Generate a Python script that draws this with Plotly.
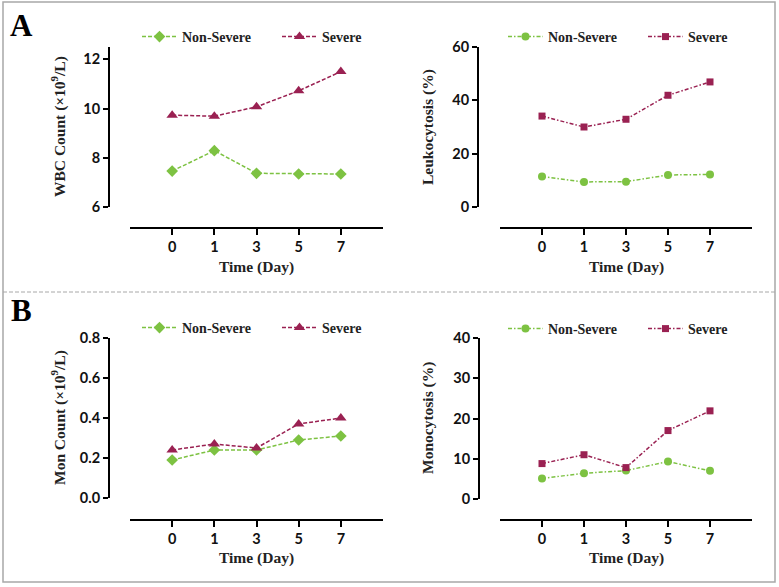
import plotly.graph_objects as go

W, H = 779, 587

days = ["0", "1", "3", "5", "7"]
series_names = ["Non-Severe", "Severe"]

wbc_nonsevere = [7.46, 8.29, 7.37, 7.34, 7.34]
wbc_severe = [9.73, 9.69, 10.07, 10.72, 11.50]
leuko_nonsevere = [11.4, 9.4, 9.5, 12.0, 12.2]
leuko_severe = [34.1, 30.0, 32.9, 41.9, 46.9]
mon_nonsevere = [0.19, 0.24, 0.24, 0.29, 0.31]
mon_severe = [0.24, 0.27, 0.25, 0.37, 0.40]
mono_nonsevere = [5.1, 6.4, 7.05, 9.3, 7.0]
mono_severe = [8.8, 11.0, 7.8, 17.0, 21.9]

GREEN = "#7DC242"
MAROON = "#9A2152"
SERIF = "Liberation Serif"
SANS = "Lato"


def px(x):
    return x / W


def py(y):
    return 1 - y / H


fig = go.Figure()

panels = [
    dict(xa="x", ya="y", lg="legend", ns=wbc_nonsevere, s=wbc_severe, dash="4px,2px",
         sym=("diamond", "triangle-up"), sz=(9, 10), xd=(130, 383), yd=(47, 207), xl=228, yl=109,
         yr=[6, 12.5], tv=[6, 8, 10, 12], tt=["6", "8", "10", "12"], ly=37, lx=137,
         title="WBC Count (\u00d710<sup>9</sup>/L)", tx=58, ty=127, xt=267),
    dict(xa="x2", ya="y2", lg="legend2", ns=leuko_nonsevere, s=leuko_severe, dash="4px,2px,1.5px,2px",
         sym=("circle", "square"), sz=(8, 7), xd=(500, 752), yd=(47, 207), xl=228, yl=478,
         yr=[0, 60], tv=[0, 20, 40, 60], tt=["0", "20", "40", "60"], ly=37, lx=503,
         title="Leukocytosis (%)", tx=428, ty=127, xt=267),
    dict(xa="x3", ya="y3", lg="legend3", ns=mon_nonsevere, s=mon_severe, dash="4px,2px",
         sym=("diamond", "triangle-up"), sz=(9, 10), xd=(130, 383), yd=(338, 498), xl=519.5, yl=109,
         yr=[0, 0.8], tv=[0, 0.2, 0.4, 0.6, 0.8], tt=["0.0", "0.2", "0.4", "0.6", "0.8"], ly=328, lx=137,
         title="Mon Count (\u00d710<sup>9</sup>/L)", tx=58, ty=418, xt=558),
    dict(xa="x4", ya="y4", lg="legend4", ns=mono_nonsevere, s=mono_severe, dash="4px,2px,1.5px,2px",
         sym=("circle", "square"), sz=(8, 7), xd=(500, 752), yd=(338, 499), xl=520, yl=479,
         yr=[0, 40], tv=[0, 10, 20, 30, 40], tt=["0", "10", "20", "30", "40"], ly=329, lx=503,
         title="Monocytosis (%)", tx=428, ty=418, xt=558),
]

layout_axes = {}
legends = {}
annotations = []

for p in panels:
    for name, vals, color, sym, sz in [
        (series_names[0], p["ns"], GREEN, p["sym"][0], p["sz"][0]),
        (series_names[1], p["s"], MAROON, p["sym"][1], p["sz"][1]),
    ]:
        fig.add_trace(go.Scatter(
            x=days, y=vals, name=name, mode="lines+markers",
            xaxis=p["xa"], yaxis=p["ya"], legend=p["lg"],
            line=dict(color=color, width=1.5, dash=p["dash"]),
            marker=dict(symbol=sym, size=sz, color=color),
            cliponaxis=False,
        ))
    xk = "xaxis" if p["xa"] == "x" else "xaxis" + p["xa"][1:]
    yk = "yaxis" if p["ya"] == "y" else "yaxis" + p["ya"][1:]
    layout_axes[xk] = dict(
        type="category", range=[-1, 5], domain=[px(p["xd"][0]), px(p["xd"][1])],
        anchor="free", position=py(p["xl"]),
        showline=True, linecolor="black", linewidth=2,
        ticks="outside", ticklen=6, tickwidth=2, tickcolor="black",
        showgrid=False, zeroline=False,
        tickfont=dict(family=SANS, size=14.5, color="#111", weight="bold"),
    )
    layout_axes[yk] = dict(
        range=p["yr"], domain=[py(p["yd"][1]), py(p["yd"][0])],
        anchor="free", position=px(p["yl"]),
        tickvals=p["tv"], ticktext=p["tt"],
        showline=True, linecolor="black", linewidth=2,
        ticks="outside", ticklen=5, tickwidth=2, tickcolor="black",
        showgrid=False, zeroline=False,
        tickfont=dict(family=SANS, size=14.5, color="#111", weight="bold"),
    )
    legends[p["lg"]] = dict(
        orientation="h", x=px(p["lx"]),
        xanchor="left", y=py(p["ly"]), yanchor="middle",
        bgcolor="rgba(0,0,0,0)", entrywidth=90, itemwidth=35,
        font=dict(family=SERIF, size=14, color="#222", weight="bold"),
    )
    annotations.append(dict(
        text=p["title"], x=px(p["tx"]), y=py(p["ty"]), xref="paper", yref="paper",
        textangle=-90, showarrow=False, xanchor="center", yanchor="middle",
        font=dict(family=SERIF, size=15.5, color="#222", weight="bold"),
    ))
    annotations.append(dict(
        text="Time (Day)", x=(px(p["xd"][0]) + px(p["xd"][1])) / 2, y=py(p["xt"]),
        xref="paper", yref="paper", showarrow=False, xanchor="center", yanchor="middle",
        font=dict(family=SERIF, size=15.5, color="#222", weight="bold"),
    ))

annotations.append(dict(text="A", x=px(21), y=py(25), xref="paper", yref="paper",
                        showarrow=False, xanchor="center", yanchor="middle",
                        font=dict(family=SERIF, size=31, color="black", weight="bold")))
annotations.append(dict(text="B", x=px(21), y=py(310), xref="paper", yref="paper",
                        showarrow=False, xanchor="center", yanchor="middle",
                        font=dict(family=SERIF, size=31, color="black", weight="bold")))

shapes = [
    dict(type="rect", xref="paper", yref="paper", x0=px(3), x1=px(775), y0=py(582), y1=py(2),
         line=dict(color="#A8A8A8", width=1.5)),
    dict(type="line", xref="paper", yref="paper", x0=px(3), x1=px(775), y0=py(292), y1=py(292),
         line=dict(color="#A8A8A8", width=1, dash="4px,2px")),
]

fig.update_layout(
    width=W, height=H,
    margin=dict(l=0, r=0, t=0, b=0, autoexpand=False),
    paper_bgcolor="white", plot_bgcolor="white",
    template="none",
    annotations=annotations, shapes=shapes,
    **layout_axes, **legends,
)

fig.write_html("out.html", config={"displayModeBar": False},
               post_script="document.body.style.margin='0px';")
